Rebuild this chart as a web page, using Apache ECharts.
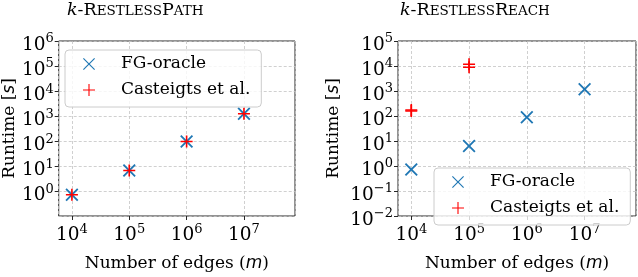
<!DOCTYPE html>
<html>
<head>
<meta charset="utf-8">
<script src="https://cdn.jsdelivr.net/npm/echarts@6/dist/echarts.min.js"></script>
<style>
  html, body { margin: 0; padding: 0; background: #fff; }
  #main { width: 638px; height: 277px; }
</style>
</head>
<body>
<div id="main"></div>
<script>
// number of edges (x) and runtimes in seconds (y)
const edges = [1e4, 1e5, 1e6, 1e7];
const pathFG = [0.74, 6.8, 98, 1260];
const pathCasteigts = [0.74, 6.8, 98, 1260];
const reachFG = [0.72, 6.3, 89, 1170];
const reachCastEdges = [1e4, 1e4, 1e5, 1e5];
const reachCasteigts = [158, 174, 8900, 11700];
const seriesNames = ['FG-oracle', 'Casteigts et al.'];

const SERIF = 'DejaVu Serif';
const BLUE = '#1f77b4';
const RED = '#ff0000';
const CROSS = 'path://M0,1.2 L1.2,0 L6,4.8 L10.8,0 L12,1.2 L7.2,6 L12,10.8 L10.8,12 L6,7.2 L1.2,12 L0,10.8 L4.8,6 Z';
const PLUS = 'path://M5.2,0 H6.8 V5.2 H12 V6.8 H6.8 V12 H5.2 V6.8 H0 V5.2 H5.2 Z';
const CROSS_THIN = 'path://M0,0.8 L0.8,0 L6,5.2 L11.2,0 L12,0.8 L6.8,6 L12,11.2 L11.2,12 L6,6.8 L0.8,12 L0,11.2 L5.2,6 Z';
const PLUS_THIN = 'path://M5.45,0 H6.55 V5.45 H12 V6.55 H6.55 V12 H5.45 V6.55 H0 V5.45 H5.45 Z';

const pairs = (xs, ys) => xs.map((x, i) => [x, ys[i]]);

const powLabel = v => {
  const e = Math.round(Math.log10(v));
  return '{b|10}{s|' + (e < 0 ? '\u2212' + (-e) : e) + '}';
};
const tickRich = {
  b: { fontFamily: SERIF, fontSize: 18.5, color: '#000', verticalAlign: 'bottom' },
  s: { fontFamily: SERIF, fontSize: 13, color: '#000', verticalAlign: 'bottom', padding: [0, 0, 9, 0] }
};
const gridLine = { show: true, lineStyle: { color: '#c4c4c4', width: 0.8, type: [3, 2] } };
const tick = { show: true, inside: false, length: 4, lineStyle: { color: '#262626', width: 1 } };
const nameRich = {
  n: { fontFamily: SERIF, fontSize: 17, color: '#000' },
  m: { fontFamily: 'DejaVu Sans', fontStyle: 'italic', fontSize: 17, color: '#000' }
};

function xAxis(gridIndex) {
  return {
    type: 'log', gridIndex, logBase: 10,
    min: Math.pow(10, 3.77), max: Math.pow(10, 7.89),
    axisLine: { show: false }, axisTick: tick, splitLine: gridLine,
    axisLabel: { formatter: powLabel, rich: tickRich, margin: 7, showMinLabel: false, showMaxLabel: false },
    name: '{n|Number of edges (}{m|m}{n|)}', nameLocation: 'middle', nameGap: 39,
    nameTextStyle: { rich: nameRich }
  };
}
function yAxis(gridIndex, min, max, gap, showMin) {
  return {
    type: 'log', gridIndex, logBase: 10, min, max,
    axisLine: { show: false }, axisTick: tick, splitLine: gridLine,
    axisLabel: { formatter: powLabel, rich: tickRich, margin: 5, padding: [5, 0, 0, 0], showMinLabel: showMin },
    name: '{n|Runtime [}{m|s}{n|]}', nameLocation: 'middle', nameGap: gap, nameRotate: 90,
    nameTextStyle: { rich: nameRich }
  };
}
function title(text, left) {
  return {
    text, left, top: 1, padding: 0,
    textStyle: { fontWeight: 'normal', rich: {
      i: { fontFamily: SERIF, fontStyle: 'italic', fontWeight: 'normal', fontSize: 17.5, color: '#000', verticalAlign: 'bottom' },
      n: { fontFamily: SERIF, fontWeight: 'normal', fontSize: 17.5, color: '#000', verticalAlign: 'bottom' },
      c: { fontFamily: SERIF, fontWeight: 'normal', fontSize: 13.5, color: '#000', verticalAlign: 'bottom', padding: [0, 0, 1, 0] }
    } }
  };
}
function legend(left, top) {
  return {
    left, top, orient: 'vertical', itemGap: 6, itemWidth: 12, itemHeight: 12,
    padding: [4, 11, 7, 18],
    backgroundColor: 'rgba(255,255,255,0.8)', borderColor: '#cccccc', borderWidth: 1, borderRadius: 4,
    textStyle: { fontFamily: SERIF, fontSize: 17, color: '#000', lineHeight: 20, padding: [0, 0, 0, 21] },
    data: [
      { name: seriesNames[0], icon: CROSS_THIN, itemStyle: { color: BLUE } },
      { name: seriesNames[1], icon: PLUS_THIN, itemStyle: { color: RED } }
    ]
  };
}
function scatter(name, xIdx, data, symbol, color, size) {
  return {
    type: 'scatter', name, xAxisIndex: xIdx, yAxisIndex: xIdx, data,
    symbol, symbolSize: size, itemStyle: { color, opacity: 1 }, silent: true
  };
}

const chart = echarts.init(document.getElementById('main'), null, { renderer: 'canvas' });
chart.setOption({
  animation: false,
  backgroundColor: '#fff',
  title: [
    title('{i|k}{n|-R}{c|ESTLESS}{n|P}{c|ATH}', 67),
    title('{i|k}{n|-R}{c|ESTLESS}{n|R}{c|EACH}', 400)
  ],
  legend: [legend(65, 50), legend(434, 168)],
  grid: [
    { left: 56, top: 41, width: 239, height: 193, show: true, borderColor: '#262626', borderWidth: 1 },
    { left: 398, top: 41, width: 238, height: 193, show: true, borderColor: '#262626', borderWidth: 1 }
  ],
  xAxis: [xAxis(0), xAxis(1)],
  yAxis: [yAxis(0, Math.pow(10, -0.98), 1e6, 38, false), yAxis(1, 0.01, 1e5, 56, true)],
  series: [
    scatter(seriesNames[0], 0, pairs(edges, pathFG), CROSS, BLUE, 13),
    scatter(seriesNames[1], 0, pairs(edges, pathCasteigts), PLUS, RED, 12),
    scatter(seriesNames[0], 1, pairs(edges, reachFG), CROSS, BLUE, 13),
    scatter(seriesNames[1], 1, pairs(reachCastEdges, reachCasteigts), PLUS, RED, 12)
  ]
});
</script>
</body>
</html>
